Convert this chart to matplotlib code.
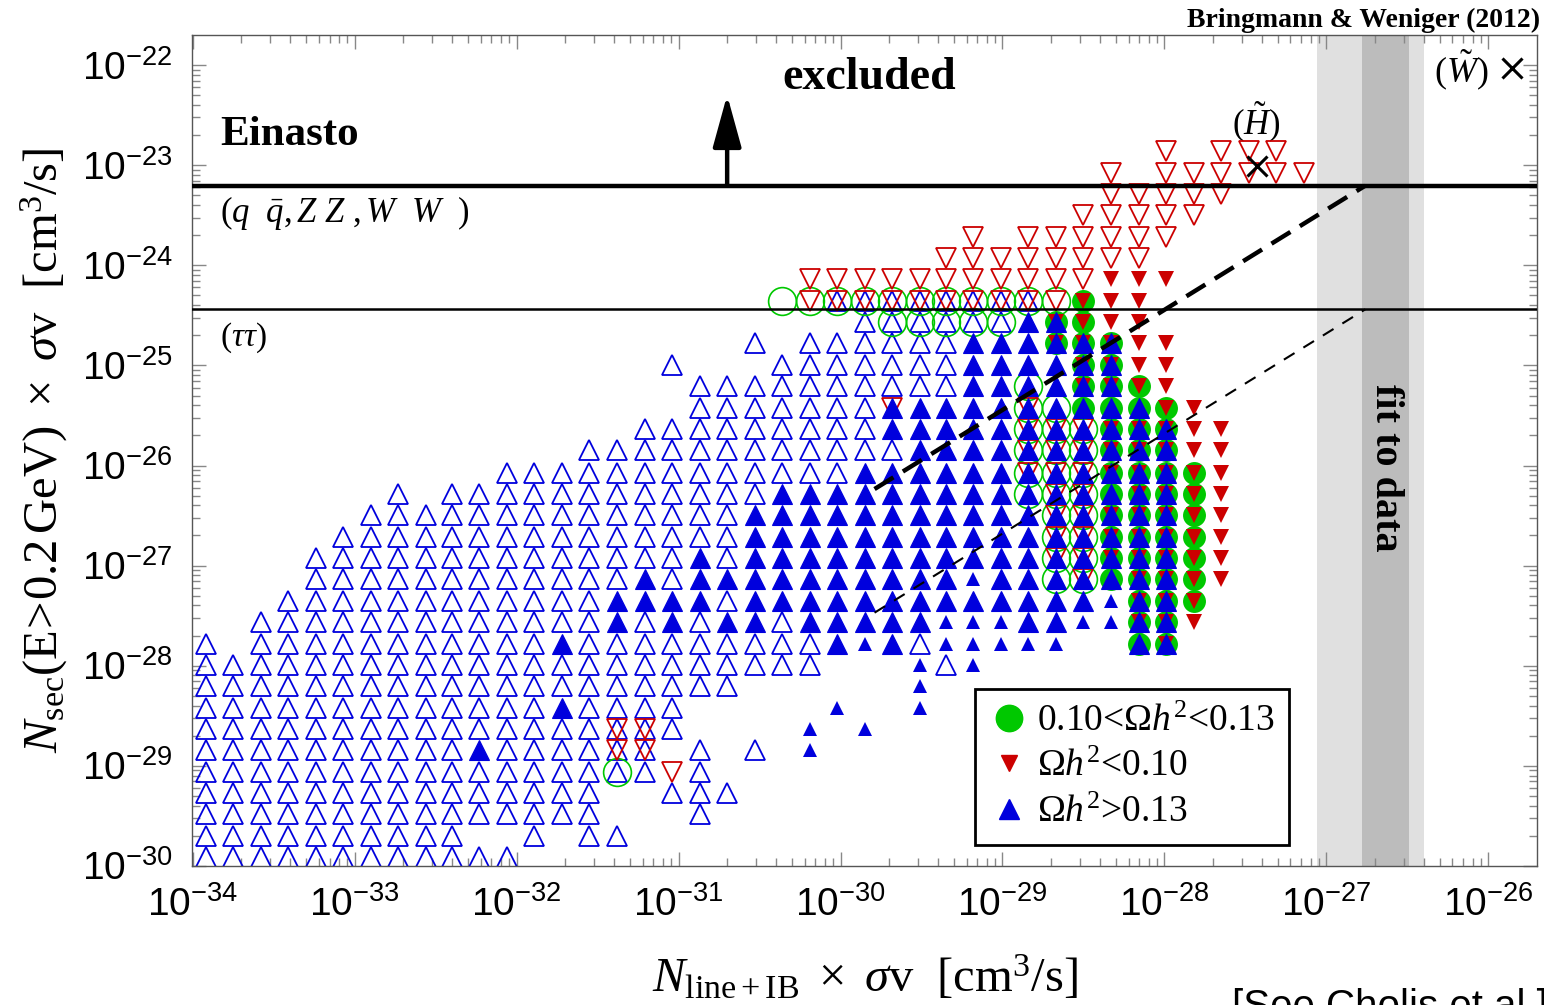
import numpy as np
import matplotlib
matplotlib.use('Agg')
import matplotlib.pyplot as plt
from matplotlib.lines import Line2D
from matplotlib.ticker import FixedLocator, FuncFormatter, NullFormatter

plt.rcParams['font.family'] = ['Liberation Serif', 'DejaVu Serif']
plt.rcParams['mathtext.fontset'] = 'custom'
plt.rcParams['mathtext.rm'] = 'Liberation Serif'
plt.rcParams['mathtext.it'] = 'Liberation Serif:italic'
plt.rcParams['mathtext.bf'] = 'Liberation Serif:bold'
plt.rcParams['mathtext.sf'] = 'Liberation Sans'

# scan grid (log10 values)
X_GRID = [-33.92, -33.75, -33.58, -33.41, -33.24, -33.07, -32.90, -32.73, -32.56, -32.40,
          -32.23, -32.06, -31.89, -31.72, -31.55, -31.38, -31.21, -31.04, -30.87, -30.70,
          -30.53, -30.36, -30.19, -30.02, -29.85, -29.68, -29.51, -29.35, -29.18, -29.01,
          -28.84, -28.67, -28.50, -28.33, -28.16, -27.99, -27.82, -27.65, -27.48, -27.31,
          -27.14]
Y_GRID = [-29.91, -29.70, -29.48, -29.27, -29.06, -28.84, -28.63, -28.42, -28.20, -27.99,
          -27.78, -27.56, -27.35, -27.13, -26.92, -26.71, -26.49, -26.28, -26.07, -25.85,
          -25.64, -25.43, -25.21, -25.00, -24.78, -24.57, -24.36, -24.14, -23.93, -23.72,
          -23.50, -23.29, -23.08, -22.86]

# (column, first row, last row) runs on the grid
OPEN_BLUE = [(0, 0, 10), (1, 0, 9), (2, 0, 11), (3, 0, 12), (4, 0, 14), (5, 0, 15),
             (6, 0, 16), (7, 0, 17), (8, 0, 16), (9, 0, 17), (10, 0, 0), (10, 2, 4),
             (10, 6, 17), (11, 0, 0), (11, 2, 18), (12, 1, 18), (13, 2, 6), (13, 8, 9),
             (13, 11, 18), (14, 1, 19), (15, 1, 1), (15, 4, 10), (15, 13, 19), (16, 4, 11),
             (16, 14, 20), (17, 3, 3), (17, 6, 10), (17, 13, 20), (17, 23, 23), (18, 2, 5),
             (18, 8, 11), (18, 15, 22), (19, 3, 3), (19, 8, 10), (19, 12, 12), (19, 14, 22),
             (20, 5, 5), (20, 9, 10), (20, 17, 22), (20, 24, 24), (21, 9, 11), (21, 18, 23),
             (22, 9, 10), (22, 18, 24), (23, 18, 24), (23, 26, 26), (24, 19, 26),
             (25, 19, 19), (25, 22, 26), (26, 10, 10), (26, 22, 26), (27, 9, 9),
             (27, 22, 26), (28, 25, 26), (29, 25, 26), (30, 26, 26)]
FILLED_BLUE = [(10, 5, 5), (13, 7, 7), (13, 10, 10), (15, 11, 12), (16, 12, 13), (17, 11, 12),
               (18, 12, 14), (19, 11, 11), (19, 13, 13), (20, 11, 16), (21, 12, 17),
               (22, 11, 17), (23, 10, 17), (24, 11, 18), (25, 10, 18), (25, 20, 21),
               (26, 11, 21), (27, 12, 21), (28, 12, 12), (28, 14, 24), (29, 12, 24),
               (30, 11, 25), (31, 11, 25), (32, 12, 24), (33, 13, 24), (34, 10, 21),
               (35, 10, 20)]
SMALL_BLUE = [(22, 5, 6), (23, 7, 7), (24, 6, 6), (24, 10, 10), (26, 7, 9), (27, 10, 11),
              (28, 9, 11), (28, 13, 13), (29, 10, 11), (30, 10, 10), (31, 10, 10),
              (32, 11, 11), (33, 11, 12)]
OPEN_RED = [(15, 5, 6), (16, 5, 6), (17, 4, 4), (22, 26, 27), (23, 26, 27), (24, 26, 27),
            (25, 21, 21), (25, 26, 27), (26, 26, 27), (27, 26, 28), (28, 26, 29),
            (29, 26, 28), (30, 18, 21), (30, 26, 29), (31, 14, 20), (31, 26, 29),
            (32, 13, 20), (32, 27, 30), (33, 28, 32), (34, 28, 31), (35, 29, 33),
            (36, 30, 32), (37, 31, 33), (38, 32, 33), (39, 32, 33), (40, 32, 32)]
SMALL_RED = [(31, 24, 25), (32, 22, 26), (33, 14, 16), (33, 18, 20), (33, 22, 27),
             (34, 11, 20), (34, 22, 27), (35, 10, 24), (35, 27, 27), (36, 11, 21),
             (37, 13, 20)]
OPEN_GREEN = [(15, 4, 4), (21, 26, 26), (22, 26, 26), (23, 26, 26), (24, 26, 26),
              (25, 25, 26), (26, 25, 26), (27, 25, 26), (28, 25, 26), (29, 25, 26),
              (30, 17, 22), (30, 26, 26), (31, 13, 21), (31, 26, 26), (32, 13, 20)]
FILLED_GREEN = [(31, 24, 25), (32, 21, 26), (33, 13, 24), (34, 10, 22), (35, 10, 21),
                (36, 12, 18)]

# limits and guide lines (log10)
LIMIT_QQ = -23.205
LIMIT_TAUTAU = -24.44
FIT_X = [-29.79, -26.76]
FIT_THICK_Y = [-26.235, -23.205]
FIT_THIN_Y = [-27.47, -24.44]
BAND_OUTER = (-27.06, -26.40)
BAND_INNER = (-26.78, -26.49)
HIGGSINO = (-27.43, -23.005)
WINO = (-25.856, -22.027)

X_DECADES = list(range(-34, -25))
Y_DECADES = list(range(-30, -21))

BLUE = '#0000dd'
RED = '#cc0000'
GREEN = '#00c800'


def expand(runs):
    xs, ys = [], []
    for c, r0, r1 in runs:
        for r in range(r0, r1 + 1):
            xs.append(10 ** X_GRID[c])
            ys.append(10 ** Y_GRID[r])
    return xs, ys


def minors(decades, lo, hi):
    vals = [m * 10.0 ** d for d in decades + [decades[-1] + 1] for m in range(2, 10)]
    return [v for v in vals if lo < v < hi]


fig = plt.figure(figsize=(15.44, 10.05), dpi=100)
ax = fig.add_axes([0.12435, 0.13831, 0.87111, 0.82687])
ax.set_xscale('log')
ax.set_yscale('log')
xlo, xhi = 10 ** -34.004, 10 ** -25.70
ylo, yhi = 10 ** -30.0, 10 ** -21.70
ax.set_xlim(xlo, xhi)
ax.set_ylim(ylo, yhi)

ax.axvspan(10 ** BAND_OUTER[0], 10 ** BAND_OUTER[1], color='#e0e0e0', lw=0, zorder=0)
ax.axvspan(10 ** BAND_INNER[0], 10 ** BAND_INNER[1], color='#bcbcbc', lw=0, zorder=0)

x, y = expand(OPEN_BLUE)
ax.plot(x, y, ls='none', marker='^', ms=14.5, mfc='none', mec=BLUE, mew=1.3, zorder=2)
x, y = expand(OPEN_GREEN)
ax.plot(x, y, ls='none', marker='o', ms=20, mfc='none', mec=GREEN, mew=1.2, zorder=3)
x, y = expand(OPEN_RED)
ax.plot(x, y, ls='none', marker='v', ms=14.5, mfc='none', mec=RED, mew=1.3, zorder=3.5)
x, y = expand(FILLED_GREEN)
ax.plot(x, y, ls='none', marker='o', ms=16.5, mfc=GREEN, mec=GREEN, mew=0, zorder=4)
x, y = expand(SMALL_RED)
ax.plot(x, y, ls='none', marker='v', ms=11, mfc=RED, mec=RED, mew=0, zorder=5)
x, y = expand(FILLED_BLUE)
ax.plot(x, y, ls='none', marker='^', ms=14.5, mfc=BLUE, mec=BLUE, mew=0.8, zorder=6)
x, y = expand(SMALL_BLUE)
ax.plot(x, y, ls='none', marker='^', ms=10, mfc=BLUE, mec=BLUE, mew=0, zorder=6)

# Einasto limits
ax.axhline(10 ** LIMIT_QQ, color='k', lw=3.2, zorder=7)
ax.axhline(10 ** LIMIT_TAUTAU, color='k', lw=1.8, zorder=7)
fx = [10 ** v for v in FIT_X]
ax.plot(fx, [10 ** v for v in FIT_THICK_Y], color='k', lw=3.2, dashes=(5, 2.5), zorder=7)
ax.plot(fx, [10 ** v for v in FIT_THIN_Y], color='k', lw=1.5, dashes=(6, 5), zorder=7)

ax.annotate('', xy=(10 ** -30.70, 10 ** -22.30), xytext=(10 ** -30.70, 10 ** LIMIT_QQ),
            arrowprops=dict(arrowstyle='-|>,head_length=0.8,head_width=0.22', lw=3.2,
                            color='k', mutation_scale=40, shrinkA=0, shrinkB=0), zorder=8)

ax.plot(10 ** HIGGSINO[0], 10 ** HIGGSINO[1], marker='x', ms=15, mew=2.2, color='k', zorder=8)
ax.plot(10 ** WINO[0], 10 ** WINO[1], marker='x', ms=15, mew=2.2, color='k', zorder=8,
        clip_on=False)

ax.text(10 ** -29.82, 10 ** -22.127, 'excluded', fontsize=33, fontweight='bold',
        ha='center', va='center')
ax.text(10 ** -33.83, 10 ** -22.70, 'Einasto', fontsize=31, fontweight='bold',
        ha='left', va='center')
ax.text(10 ** -33.83, 10 ** -23.48, r'$(q\ \ \bar{q}, Z\ Z\ , W\ \ W\ \ )$', fontsize=25,
        ha='left', va='center')
ax.text(10 ** -33.83, 10 ** -24.72, r'$(\tau\tau)$', fontsize=24, ha='left', va='center')
ax.text(10 ** -27.43, 10 ** -22.57, r'$(\tilde{H})$', fontsize=25, ha='center', va='center')
ax.text(10 ** -26.17, 10 ** -22.05, r'$(\tilde{W})$', fontsize=26, ha='center', va='center')
ax.text(10 ** -26.635, 10 ** -26.02, 'fit to data', fontsize=29, fontweight='bold',
        rotation=270, ha='center', va='center', zorder=8)

handles = [
    Line2D([], [], ls='none', marker='o', ms=19, mfc=GREEN, mec=GREEN),
    Line2D([], [], ls='none', marker='v', ms=11, mfc=RED, mec=RED),
    Line2D([], [], ls='none', marker='^', ms=14, mfc=BLUE, mec=BLUE),
]
labels = [r'0.10<$\Omega h^2$<0.13', r'$\Omega h^2$<0.10', r'$\Omega h^2$>0.13']
leg = ax.legend(handles, labels, loc='lower left', bbox_to_anchor=(0.582, 0.025),
                fontsize=27, frameon=True, fancybox=False, framealpha=1,
                edgecolor='k', handletextpad=0.25, labelspacing=0.3, borderpad=0.4,
                handlelength=1.0, borderaxespad=0)
leg.get_frame().set_linewidth(2)
leg.set_zorder(10)

fmt = FuncFormatter(lambda v, pos: r'$\mathsf{10^{%d}}$' % round(np.log10(v)))
ax.xaxis.set_major_locator(FixedLocator([10.0 ** d for d in X_DECADES]))
ax.yaxis.set_major_locator(FixedLocator([10.0 ** d for d in Y_DECADES]))
ax.xaxis.set_minor_locator(FixedLocator(minors(X_DECADES, xlo, xhi)))
ax.yaxis.set_minor_locator(FixedLocator(minors(Y_DECADES, ylo, yhi)))
for axis in (ax.xaxis, ax.yaxis):
    axis.set_major_formatter(fmt)
    axis.set_minor_formatter(NullFormatter())
ax.tick_params(which='both', direction='in', top=True, right=True, color='#888888',
               labelsize=28)
ax.tick_params(which='major', length=10, width=1)
ax.tick_params(which='minor', length=5.5, width=1)
ax.tick_params(axis='x', pad=15)
ax.tick_params(axis='y', pad=14)
for sp in ax.spines.values():
    sp.set_color('#555555')
    sp.set_linewidth(1)

fig.text(864.5 / 1544, 1 - 978 / 1005,
         r'$N_{\rm line+IB}\ \times\ \sigma\mathrm{v}\ \ [\mathrm{cm}^3/\mathrm{s}]$',
         fontsize=35, ha='center', va='center')
fig.text(44 / 1544, 1 - 450 / 1005,
         r'$N_{\rm sec}(\mathrm{E\!>\!0.2\,GeV})\ \times\ \sigma\mathrm{v}\ \ [\mathrm{cm}^3/\mathrm{s}]$',
         fontsize=35, ha='center', va='center', rotation=90)
fig.text(1540 / 1544, 1 - 20 / 1005, 'Bringmann & Weniger (2012)', fontsize=20,
         fontweight='bold', ha='right', va='center')
fig.text(1232 / 1544, 1 - 988 / 1005, '[See Cholis et al.]', fontsize=29,
         family='Liberation Sans', ha='left', va='top')

fig.savefig('out.png', dpi=100)
